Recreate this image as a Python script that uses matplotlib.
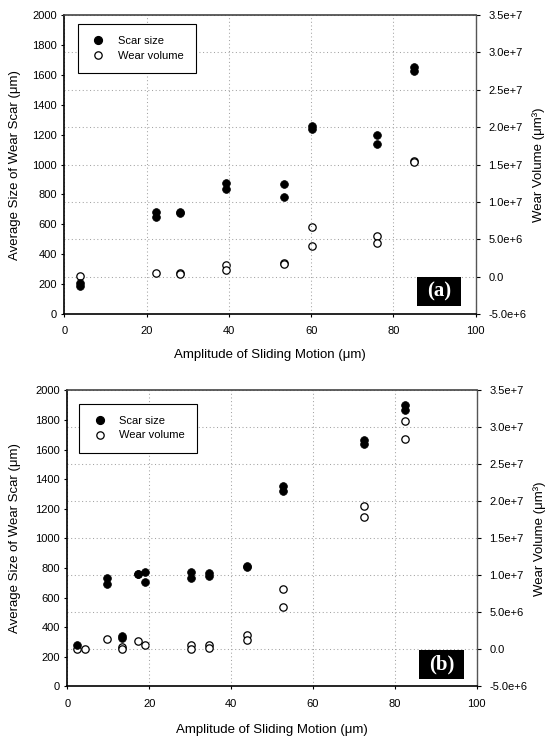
import numpy as np
import matplotlib
matplotlib.use('Agg')
import matplotlib.pyplot as plt
from matplotlib.ticker import FuncFormatter, MultipleLocator
from matplotlib.patches import Rectangle
from matplotlib.lines import Line2D

plt.rcParams['font.family'] = ['Liberation Sans', 'DejaVu Sans']

# panel (a) -- amplitude (um), scar size (um), wear volume (um^3)
scar_a_x = [3.8, 3.8, 22.3, 22.3, 28.2, 28.2, 39.2, 39.2, 53.3, 53.3,
            60.2, 60.2, 76.0, 76.0, 85.1, 85.1]
scar_a_y = [209, 189, 680, 648, 684, 673, 874, 836, 867, 784,
            1255, 1235, 1199, 1137, 1656, 1623]
wear_a_x = [3.8, 22.3, 28.2, 28.2, 39.2, 39.2, 53.3, 53.3, 60.2, 60.2,
            76.0, 76.0, 85.1, 85.1]
wear_a_y = [0.15e6, 0.52e6, 0.52e6, 0.3e6, 1.55e6, 0.88e6, 1.85e6, 1.7e6,
            6.6e6, 4.1e6, 5.5e6, 4.46e6, 15.5e6, 15.3e6]

# panel (b)
scar_b_x = [2.4, 9.7, 9.7, 13.3, 13.3, 17.2, 17.2, 19.1, 19.1, 30.3, 30.3,
            34.5, 34.5, 43.9, 43.9, 52.8, 52.8, 72.4, 72.4, 82.4, 82.4]
scar_b_y = [282, 735, 690, 343, 327, 762, 758, 775, 708, 775, 735,
            765, 749, 812, 805, 1356, 1323, 1666, 1639, 1901, 1865]
wear_b_x = [2.4, 4.4, 9.7, 13.3, 13.3, 17.2, 19.1, 30.3, 30.3, 34.5, 34.5,
            43.9, 43.9, 52.8, 52.8, 72.4, 72.4, 82.4, 82.4]
wear_b_y = [0.0, 0.0, 1.42e6, 0.3e6, 0.05e6, 1.18e6, 0.52e6, 0.52e6, 0.1e6,
            0.64e6, 0.12e6, 1.96e6, 1.28e6, 8.14e6, 5.72e6, 19.4e6, 17.96e6,
            30.9e6, 28.5e6]

xlabel = 'Amplitude of Sliding Motion (\u03bcm)'
ylabel_l = 'Average Size of Wear Scar (\u03bcm)'
ylabel_r = 'Wear Volume (\u03bcm\u00b3)'


def sci_fmt(v, pos):
    if abs(v) < 1:
        return '0.0'
    e = int(np.floor(np.log10(abs(v))))
    return '%.1fe%+d' % (v / 10**e, e)


def draw_panel(rect, sx, sy, wx, wy, tag, leg_xy, tag_rect, ylc, yrc, xlc):
    ax = fig.add_axes(rect)
    ax2 = ax.twinx()
    # scar axis on top so grid of the twin stays behind the markers
    ax.set_zorder(ax2.get_zorder() + 1)
    ax.patch.set_visible(False)

    grid_kw = dict(color='#a3a3a3', linestyle=(0, (1, 2.5)), linewidth=0.75)

    ax2.plot(wx, wy, 'o', ms=5.3, mfc='white', mec='black', mew=0.9, clip_on=False)
    ax.plot(sx, sy, 'o', ms=5.6, mfc='black', mec='black', mew=0.5, clip_on=False)

    ax.set_xlim(0, 100)
    ax.set_ylim(0, 2000)
    ax2.set_ylim(-5e6, 3.5e7)
    ax.xaxis.set_major_locator(MultipleLocator(20))
    ax.yaxis.set_major_locator(MultipleLocator(200))
    ax2.yaxis.set_major_locator(MultipleLocator(5e6))
    ax2.yaxis.set_major_formatter(FuncFormatter(sci_fmt))

    ax.grid(axis='x', **grid_kw)
    ax2.grid(axis='y', **grid_kw)

    ax.tick_params(axis='x', direction='out', length=2.3, width=0.8, pad=6.5, labelsize=8)
    ax.tick_params(axis='y', direction='out', length=2.3, width=0.8, pad=3, labelsize=8)
    ax2.tick_params(axis='y', direction='out', length=3, width=0.8, pad=6, labelsize=8)

    for s in ['left', 'bottom']:
        ax.spines[s].set_linewidth(1.2)
        ax.spines[s].set_color('black')
    ax.spines['top'].set_color('#444444')
    ax.spines['top'].set_linewidth(1.2)
    ax.spines['right'].set_visible(False)
    for s in ['left', 'bottom', 'top']:
        ax2.spines[s].set_visible(False)
    ax2.spines['right'].set_color('#555555')
    ax2.spines['right'].set_linewidth(1.0)

    ax.set_xlabel(xlabel, fontsize=9.5)
    ax.set_ylabel(ylabel_l, fontsize=9.5)
    ax2.set_ylabel(ylabel_r, fontsize=9.5)
    ax.xaxis.set_label_coords(0.5, xlc)
    ax.yaxis.set_label_coords(ylc, 0.5)
    ax2.yaxis.set_label_coords(yrc, 0.5)

    handles = [Line2D([], [], ls='none', marker='o', ms=5.6, mfc='black', mec='black'),
               Line2D([], [], ls='none', marker='o', ms=5.3, mfc='white', mec='black', mew=0.9)]
    leg = ax.legend(handles, ['Scar size', 'Wear volume'], loc='upper left',
                    bbox_to_anchor=leg_xy, borderaxespad=0, fontsize=8,
                    fancybox=False, framealpha=1, edgecolor='black',
                    handlelength=1.5, handletextpad=1.0, borderpad=1.1,
                    labelspacing=0.4)
    leg.get_frame().set_linewidth(0.8)

    bx, by, bw, bh = tag_rect
    ax.add_patch(Rectangle((bx, by), bw, bh, transform=ax.transAxes,
                           facecolor='black', edgecolor='none', zorder=5))
    ax.text(bx + bw / 2, by + bh / 2, tag, transform=ax.transAxes,
            ha='center', va='center', color='white', fontsize=15,
            fontweight='bold', family=['Liberation Serif', 'DejaVu Serif'], zorder=6)
    return ax, ax2


fig = plt.figure(figsize=(5.48, 7.39), dpi=100)

draw_panel([0.1173, 0.5750, 0.7507, 0.4046], scar_a_x, scar_a_y, wear_a_x, wear_a_y,
           '(a)', (0.0326, 0.970), (0.857, 0.027, 0.107, 0.097),
           -0.105, 1.138, -0.118)
draw_panel([0.1228, 0.0713, 0.7471, 0.4003], scar_b_x, scar_b_y, wear_b_x, wear_b_y,
           '(b)', (0.0293, 0.955), (0.859, 0.024, 0.111, 0.100),
           -0.112, 1.1375, -0.126)

fig.savefig('out.png', dpi=100)
